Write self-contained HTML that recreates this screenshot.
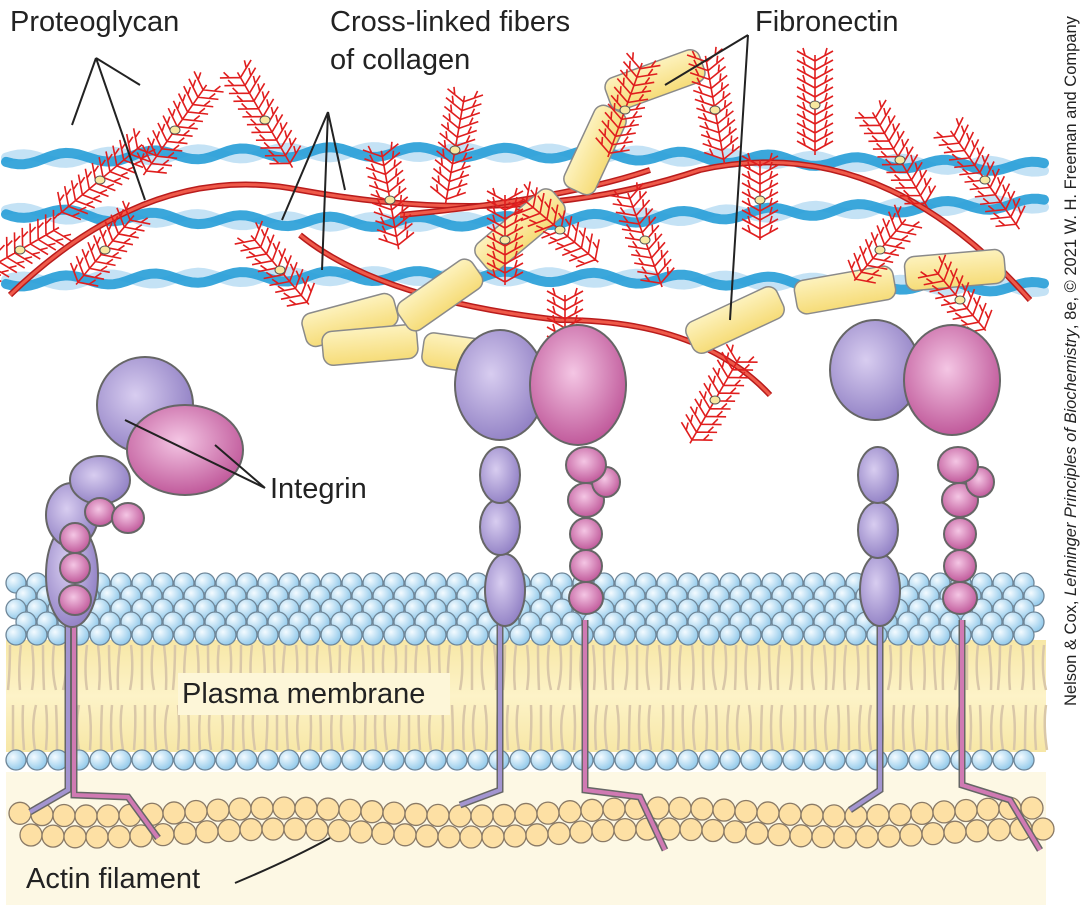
<!DOCTYPE html>
<html><head><meta charset="utf-8"><style>
body{margin:0;background:#fff;width:1086px;height:914px;overflow:hidden}
svg{display:block}
text{font-family:"Liberation Sans",sans-serif;fill:#222}
</style></head><body>
<svg id="s" width="1086" height="914" viewBox="0 0 1086 914">
<defs>
<radialGradient id="bead" cx="35%" cy="35%" r="70%"><stop offset="0" stop-color="#f4fbff"/><stop offset="1" stop-color="#8fc8ea"/></radialGradient>
<radialGradient id="pur" cx="40%" cy="40%" r="70%"><stop offset="0" stop-color="#d8cdf0"/><stop offset="1" stop-color="#8a79c0"/></radialGradient>
<radialGradient id="pnk" cx="45%" cy="40%" r="70%"><stop offset="0" stop-color="#f4c6e4"/><stop offset="1" stop-color="#b8488f"/></radialGradient>
<linearGradient id="lip" x1="0" y1="0" x2="0" y2="1"><stop offset="0" stop-color="#f7e7a6"/><stop offset=".5" stop-color="#fdf3c8"/><stop offset="1" stop-color="#f7e7a6"/></linearGradient>
<linearGradient id="cyl" x1="0" y1="0" x2="0" y2="1"><stop offset="0" stop-color="#fdf2bd"/><stop offset="1" stop-color="#f6dc78"/></linearGradient>
</defs>
<g id="membrane">
<rect x="6" y="640" width="1040" height="112" fill="url(#lip)"/>
<rect x="6" y="772" width="1040" height="133" fill="#fdf8e4"/>
<g id="tails"></g><g id="beads"></g><g id="actin"></g>
</g>
<g id="collagen"></g>
<g id="fn"></g>
<g id="pg"></g>
<g id="integ"></g>
<g font-size="29">
<text x="10" y="31">Proteoglycan</text>
<text x="330" y="31">Cross-linked fibers</text>
<text x="330" y="69">of collagen</text>
<text x="755" y="31">Fibronectin</text>
<text x="270" y="498">Integrin</text>
<rect x="178" y="673" width="272" height="42" fill="#fdf6d8"/>
<text x="182" y="703">Plasma membrane</text>
<text x="26" y="888">Actin filament</text>
<g stroke="#222" stroke-width="2" fill="none">
<path d="M96 58 L72 125 M96 58 L145 200 M96 58 L140 85"/>
<path d="M328 112 L282 220 M328 112 L322 270 M328 112 L345 190"/>
<path d="M748 35 L665 85 M748 35 L730 320"/>
<path d="M265 488 L215 445 M265 488 L125 420"/>
<path d="M235 883 Q290 860 330 838"/>
</g>
</g>
<text transform="translate(1076,706) rotate(-90)" font-size="16.5">Nelson &amp; Cox, <tspan font-style="italic">Lehninger Principles of Biochemistry</tspan>, 8e, © 2021 W. H. Freeman and Company</text>
</svg>
<script>
const NS="http://www.w3.org/2000/svg";
function mk(p,t,a){const e=document.createElementNS(NS,t);for(const k in a)e.setAttribute(k,a[k]);document.getElementById(p).appendChild(e);return e;}
for(let x=10;x<1045;x+=11){const e=mk('tails','path',{d:`M${x} 645 q${(x%3)*3-3} 25 ${(x%5)-2} 45 M${x+3} 750 q${(x%4)*2-4} -25 ${(x%3)-1} -45`,stroke:'#d9c7a8','stroke-width':2.5,fill:'none'});
}
const topRows=[583,596,609,622,635];
topRows.forEach((y,i)=>{for(let x=16+(i%2)*10;x<1045;x+=21){const c=mk('beads','circle',{cx:x,cy:y,r:10,fill:'url(#bead)',stroke:'#6f8799','stroke-width':1.3});
}});
for(let x=16;x<1045;x+=21){const c=mk('beads','circle',{cx:x,cy:760,r:10,fill:'url(#bead)',stroke:'#6f8799','stroke-width':1.3});
}
[[812,0],[833,11]].forEach(([y,o])=>{for(let x=20+o;x<1045;x+=22){const c=mk('actin','circle',{cx:x,cy:y+Math.sin(x/60)*4,r:11,fill:'#fde0a4',stroke:'#8a7a66','stroke-width':1.3});
}});
const fibers=[[160,-8],[212,10],[282,-6]];
fibers.forEach(([y,a])=>{[['#bfe0f4',Math.PI],['#2a9fd8',0]].forEach(([col,ph])=>{let d='';for(let x=6;x<=1046;x+=6){const yy=y+a*Math.sin(x/250)+5*Math.sin(x/14+ph);d+=(x==6?'M':'L')+x+' '+yy.toFixed(1);}
const p=mk('collagen','path',{d,stroke:col,'stroke-width':10,fill:'none','stroke-linecap':'round',opacity:.92});
});});
const fnPaths=["M10 295 Q150 160 300 190 Q520 230 700 170 Q880 130 1030 300","M400 215 Q560 200 650 170","M300 235 Q380 300 560 320 Q700 320 770 395"];
fnPaths.forEach(d=>{const p=mk('fn','path',{d,stroke:'#b91c1c','stroke-width':6,fill:'none'});
const q=mk('fn','path',{d,stroke:'#ef5a4a','stroke-width':3,fill:'none'});});
const cyls=[[350,320,95,-15],[370,345,95,-5],[470,355,95,8],[655,80,100,-20],[595,150,90,-65],[520,230,100,-40],[440,295,90,-35],[560,375,110,-10],[735,320,100,-25],[845,290,100,-10],[955,270,100,-5]];
cyls.forEach(([cx,cy,l,a])=>{const r=mk('fn','rect',{x:cx-l/2,y:cy-17,width:l,height:34,rx:10,fill:'url(#cyl)',stroke:'#8a8a8a','stroke-width':1.5,transform:`rotate(${a} ${cx} ${cy})`});
});
const pgs=[[20,250,90,60],[100,180,110,50],[175,130,110,35],[265,120,110,-30],[105,250,90,40],[280,270,90,-40],[390,200,100,-10],[455,150,110,10],[505,240,90,0],[560,230,100,-50],[645,240,100,-20],[625,110,100,20],[715,110,110,-10],[760,200,80,0],[815,105,100,0],[900,160,110,-30],[985,180,120,-35],[880,250,80,40],[960,300,80,-40],[715,400,100,30],[565,350,110,0]];
pgs.forEach(([x,y,l,a])=>{let d=`M0 ${-l/2} L0 ${l/2}`;for(let t=-l/2+6;t<l/2;t+=9){d+=`M0 ${t} l-18 -10 m8 4 l-2 -7 M0 ${t} l18 -10 m-8 4 l2 -7`;}
const g=mk('pg','path',{d,stroke:'#e01e1e','stroke-width':1.6,fill:'none',transform:`translate(${x} ${y}) rotate(${a})`});

const c=mk('pg','ellipse',{cx:x,cy:y,rx:5,ry:4,fill:'#f7e8a0',stroke:'#555'});});
function stem(d,col){const p=mk('integ','path',{d,stroke:'#666','stroke-width':7,fill:'none'});
const q=mk('integ','path',{d,stroke:col,'stroke-width':4,fill:'none'});}
function ell(cx,cy,rx,ry,f){const e=mk('integ','ellipse',{cx,cy,rx,ry,fill:f,stroke:'#666','stroke-width':2});}
stem('M68 620 L68 790 L30 812','#a395d0');stem('M74 620 L74 795 L128 797 L158 838','#d07ab3');
stem('M500 620 L500 790 L460 805','#a395d0');stem('M585 620 L585 790 L640 797 L665 850','#d07ab3');
stem('M880 620 L880 790 L850 810','#a395d0');stem('M962 620 L962 785 L1010 800 L1040 850','#d07ab3');
const P='url(#pur)',K='url(#pnk)';
ell(72,575,26,52,P);ell(72,515,26,32,P);ell(100,480,30,24,P);ell(145,405,48,48,P);
ell(75,600,16,15,K);ell(75,568,15,15,K);ell(75,538,15,15,K);ell(100,512,15,14,K);ell(128,518,16,15,K);ell(185,450,58,45,K);
ell(505,590,20,36,P);ell(500,527,20,28,P);ell(500,475,20,28,P);ell(500,385,45,55,P);
ell(586,598,17,16,K);ell(586,566,16,16,K);ell(586,534,16,16,K);ell(586,500,18,17,K);ell(606,482,14,15,K);ell(586,465,20,18,K);ell(578,385,48,60,K);
ell(880,590,20,36,P);ell(878,530,20,28,P);ell(878,475,20,28,P);ell(875,370,45,50,P);
ell(960,598,17,16,K);ell(960,566,16,16,K);ell(960,534,16,16,K);ell(960,500,18,17,K);ell(980,482,14,15,K);ell(958,465,20,18,K);ell(952,380,48,55,K);
</script>
</body></html>
